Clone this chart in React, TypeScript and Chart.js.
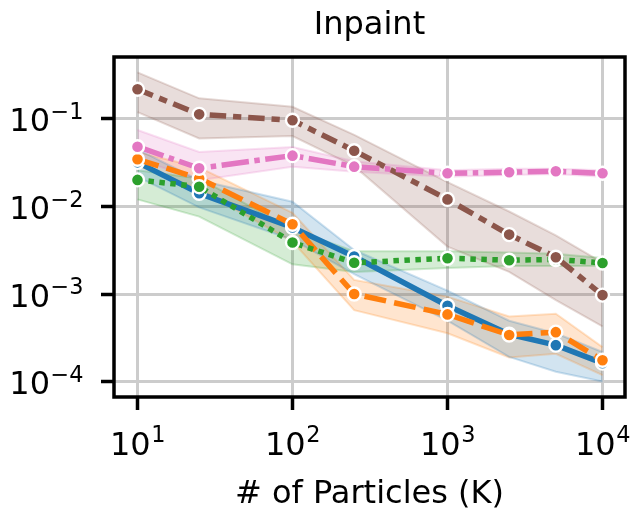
import React, { useEffect, useRef } from 'react';
import { Chart, registerables } from 'chart.js';

Chart.register(...registerables);

const FONT = 'DejaVu Sans';

// x positions (# of particles, K)
const particles = [10, 25, 100, 250, 1000, 2500, 5000, 10000];

// tick values and their labels (base "10" + exponent)
const xTickValues = [10, 100, 1000, 10000];
const xTickExponents = ['1', '2', '3', '4'];
const yTickValues = [1e-4, 1e-3, 1e-2, 1e-1];
const yTickExponents = ['−4', '−3', '−2', '−1'];

// blue (solid)
const blueMean = [0.032, 0.0142, 0.0058, 0.0027, 0.00074, 0.00035, 0.000263, 0.000164];
const blueHi = [0.045, 0.02, 0.0114, 0.0032, 0.0011, 0.0005, 0.00036, 0.00022];
const blueLo = [0.022, 0.0098, 0.0042, 0.0017, 0.0005, 0.000193, 0.000131, 0.000101];

// orange (dashed)
const orangeMean = [0.0347, 0.021, 0.0063, 0.00101, 0.00059, 0.000344, 0.00037, 0.000177];
const orangeHi = [0.042, 0.028, 0.0085, 0.00146, 0.00094, 0.00056, 0.0006, 0.00025];
const orangeLo = [0.029, 0.016, 0.004, 0.00066, 0.00036, 0.00019, 0.00021, 0.00012];

// green (dotted)
const greenMean = [0.0202, 0.0169, 0.0039, 0.00229, 0.00258, 0.00245, 0.0025, 0.00228];
const greenHi = [0.026, 0.021, 0.0055, 0.0031, 0.0031, 0.003, 0.0029, 0.0026];
const greenLo = [0.0121, 0.0077, 0.0022, 0.0018, 0.002, 0.0021, 0.0021, 0.0021];

// brown (dash-dot-dash)
const brownMean = [0.218, 0.113, 0.0967, 0.0435, 0.0121, 0.0048, 0.00265, 0.00098];
const brownHi = [0.34, 0.172, 0.138, 0.066, 0.019, 0.0088, 0.0047, 0.0023];
const brownLo = [0.12, 0.06, 0.064, 0.029, 0.0035, 0.0018, 0.00086, 0.00043];

// pink (dash-dot)
const pinkMean = [0.0483, 0.0274, 0.0382, 0.0286, 0.024, 0.0247, 0.0253, 0.024];
const pinkHi = [0.075, 0.042, 0.048, 0.033, 0.026, 0.027, 0.027, 0.026];
const pinkLo = [0.035, 0.02, 0.0286, 0.025, 0.022, 0.023, 0.0235, 0.022];

const series = [
  { color: [31, 119, 180], mean: blueMean, hi: blueHi, lo: blueLo, dash: [] as number[], order: 4 },
  { color: [255, 127, 14], mean: orangeMean, hi: orangeHi, lo: orangeLo, dash: [22, 8.25], order: 3 },
  { color: [44, 160, 44], mean: greenMean, hi: greenHi, lo: greenLo, dash: [5.5, 5.5], order: 2 },
  { color: [140, 86, 75], mean: brownMean, hi: brownHi, lo: brownLo, dash: [16.5, 6.9, 8.25, 6.9], order: 1 },
  { color: [227, 119, 194], mean: pinkMean, hi: pinkHi, lo: pinkLo, dash: [27.5, 5.5, 5.5, 5.5], order: 0 },
];

const rgba = (c: number[], a: number) => `rgba(${c[0]},${c[1]},${c[2]},${a})`;

const BASE_SIZE = 32;
const EXP_SIZE = 22.4;

const spinesAndLabels = {
  id: 'spinesAndLabels',
  afterDatasetsDraw(chart: any) {
    const { ctx, chartArea: a } = chart;
    ctx.save();
    ctx.strokeStyle = '#000';
    ctx.lineWidth = 3.5;
    ctx.strokeRect(a.left, a.top, a.right - a.left, a.bottom - a.top);
    ctx.restore();
  },
  afterDraw(chart: any) {
    const { ctx, chartArea: a, scales } = chart;
    ctx.save();
    ctx.fillStyle = '#000';
    ctx.textBaseline = 'alphabetic';
    ctx.textAlign = 'left';
    const measure = (t: string, size: number) => {
      ctx.font = `${size}px "${FONT}"`;
      return ctx.measureText(t).width;
    };
    // x tick labels
    xTickValues.forEach((v, i) => {
      const px = scales.x.getPixelForValue(v);
      const wb = measure('10', BASE_SIZE);
      const we = measure(xTickExponents[i], EXP_SIZE);
      const start = px - (wb + we) / 2;
      const base = a.bottom + 58;
      ctx.font = `${BASE_SIZE}px "${FONT}"`;
      ctx.fillText('10', start, base);
      ctx.font = `${EXP_SIZE}px "${FONT}"`;
      ctx.fillText(xTickExponents[i], start + wb + 0.5, base - 13);
    });
    // y tick labels
    yTickValues.forEach((v, i) => {
      const py = scales.y.getPixelForValue(v);
      const wb = measure('10', BASE_SIZE);
      const we = measure(yTickExponents[i], EXP_SIZE);
      const right = a.left - 31;
      const start = right - (wb + we);
      const base = py + 12.5;
      ctx.font = `${BASE_SIZE}px "${FONT}"`;
      ctx.fillText('10', start, base);
      ctx.font = `${EXP_SIZE}px "${FONT}"`;
      ctx.fillText(yTickExponents[i], start + wb + 0.5, base - 12.5);
    });
    ctx.restore();
  },
};

export default function App() {
  const ref = useRef<HTMLCanvasElement | null>(null);

  useEffect(() => {
    if (!ref.current) return;
    const datasets: any[] = [];
    series.forEach((s) => {
      datasets.push({
        data: particles.map((x, i) => ({ x, y: s.hi[i] })),
        borderColor: rgba(s.color, 0.22),
        borderWidth: 2,
        pointRadius: 0,
        fill: false,
        order: 20,
      });
      datasets.push({
        data: particles.map((x, i) => ({ x, y: s.lo[i] })),
        borderColor: rgba(s.color, 0.22),
        backgroundColor: rgba(s.color, 0.2),
        borderWidth: 2,
        pointRadius: 0,
        fill: '-1',
        order: 20,
      });
    });
    series.forEach((s) => {
      datasets.push({
        data: particles.map((x, i) => ({ x, y: s.mean[i] })),
        borderColor: rgba(s.color, 1),
        borderWidth: 5.5,
        borderDash: s.dash,
        borderCapStyle: 'butt',
        borderJoinStyle: 'round',
        pointRadius: 6.5,
        pointBackgroundColor: rgba(s.color, 1),
        pointBorderColor: '#ffffff',
        pointBorderWidth: 2.4,
        fill: false,
        order: s.order,
      });
    });

    const gridOpts = {
      color: '#cccccc',
      lineWidth: 3,
      drawTicks: true,
      tickLength: 13,
      tickWidth: 3.5,
      tickColor: '#000',
    };

    const chart = new Chart(ref.current, {
      type: 'line',
      data: { datasets },
      plugins: [spinesAndLabels],
      options: {
        animation: false,
        responsive: false,
        events: [],
        layout: { autoPadding: false, padding: { left: 0, right: 9, top: 0, bottom: 0 } },
        elements: { line: { tension: 0 } },
        plugins: {
          legend: { display: false },
          tooltip: { enabled: false },
          filler: { drawTime: 'beforeDatasetsDraw' },
          title: {
            display: true,
            text: 'Inpaint',
            fullSize: false,
            color: '#000',
            font: { family: FONT, size: 32, weight: 'normal', lineHeight: 1.2 },
            padding: { top: 6, bottom: 12.6 },
          },
        },
        scales: {
          x: {
            type: 'logarithmic',
            min: 7.054,
            max: 13970,
            afterBuildTicks: (s: any) => {
              s.ticks = xTickValues.map((v) => ({ value: v }));
            },
            afterFit: (s: any) => {
              s.height = 114;
              s.paddingLeft = 0;
              s.paddingRight = 0;
            },
            grid: gridOpts,
            border: { display: false },
            ticks: { display: false },
            title: {
              display: true,
              text: '# of Particles (K)',
              color: '#000',
              font: { family: FONT, size: 32, lineHeight: 1 },
              padding: { top: 0, bottom: 0 },
            },
          },
          y: {
            type: 'logarithmic',
            min: 6.74e-5,
            max: 0.5095,
            afterBuildTicks: (s: any) => {
              s.ticks = yTickValues.map((v) => ({ value: v }));
            },
            afterFit: (s: any) => {
              s.width = 114;
              s.paddingTop = 0;
              s.paddingBottom = 0;
            },
            grid: gridOpts,
            border: { display: false },
            ticks: { display: false },
          },
        },
      } as any,
    });
    return () => chart.destroy();
  }, []);

  return (
    <div style={{ position: 'fixed', left: 0, top: 0, width: 634, height: 511, background: '#fff' }}>
      <canvas ref={ref} width={634} height={511} style={{ width: 634, height: 511 }} />
    </div>
  );
}
